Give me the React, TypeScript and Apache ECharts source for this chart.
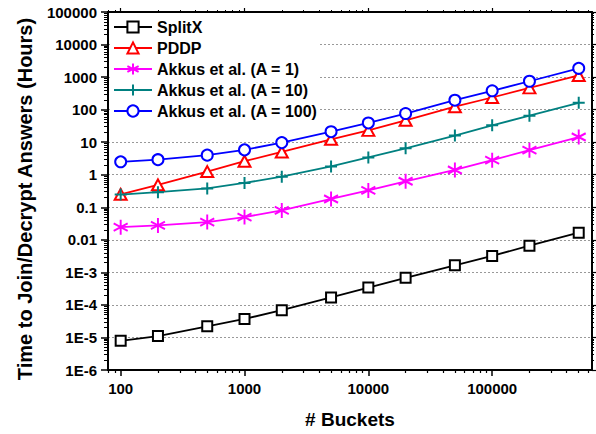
import { useEffect, useRef } from 'react';
import * as echarts from 'echarts';

// ---- data ----
const buckets = [100, 200, 500, 1000, 2000, 5000, 10000, 20000, 50000, 100000, 200000, 500000];
const splitX = [7.9e-6, 1.1e-5, 2.2e-5, 3.7e-5, 6.9e-5, 1.7e-4, 3.4e-4, 6.8e-4, 1.65e-3, 3.2e-3, 6.6e-3, 0.0166];
const pddp = [0.25, 0.49, 1.25, 2.6, 5.0, 12.3, 23, 47, 123, 236, 465, 1120];
const akkusA1 = [0.0245, 0.0277, 0.035, 0.05, 0.08, 0.18, 0.33, 0.63, 1.4, 2.8, 5.7, 14.4];
const akkusA10 = [0.245, 0.29, 0.38, 0.56, 0.87, 1.8, 3.4, 6.5, 16, 33, 65, 162];
const akkusA100 = [2.5, 2.9, 4.0, 5.8, 9.7, 21, 39, 76, 195, 380, 745, 1860];

const seriesNames = ['SplitX', 'PDDP', 'Akkus et al. (A = 1)', 'Akkus et al. (A = 10)', 'Akkus et al. (A = 100)'];

const xTickValues = [100, 1000, 10000, 100000];
const xTickLabels = ['100', '1000', '10000', '100000'];
const yTickValues = [1e-6, 1e-5, 1e-4, 1e-3, 0.01, 0.1, 1, 10, 100, 1000, 10000, 100000];
const yTickLabels = ['1E-6', '1E-5', '1E-4', '1E-3', '0.01', '0.1', '1', '10', '100', '1000', '10000', '100000'];

const xRange = [79, 640000];
const yRange = [1e-6, 1e5];

const xTitle = '# Buckets';
const yTitle = 'Time to Join/Decrypt Answers (Hours)';

const FONT = '"Liberation Sans", Arial, Helvetica, sans-serif';

const ASTERISK = 'path://M10 0 L10 20 M1.34 15 L18.66 5 M1.34 5 L18.66 15';
const PLUS = 'path://M0 10 L20 10 M10 0 L10 20';

// log-decade positions (the axes below are value axes in log10 space)
const lg = (v: number) => Math.log10(v);

function minorTicks(lo: number, hi: number) {
  const out: number[] = [];
  for (let n = Math.floor(lg(lo)); n <= Math.ceil(lg(hi)); n++) {
    for (let k = 2; k <= 9; k++) {
      const v = k * Math.pow(10, n);
      if (v >= lo && v <= hi) out.push(lg(v));
    }
  }
  return out;
}

export default function App() {
  const ref = useRef<HTMLDivElement>(null);

  useEffect(() => {
    if (!ref.current) return;
    const chart = echarts.init(ref.current, null, { renderer: 'svg' });

    const lxMin = lg(xRange[0]);
    const lxMax = lg(xRange[1]);
    const lyMin = Math.round(lg(yRange[0]));
    const lyMax = Math.round(lg(yRange[1]));
    const xMajor = xTickValues.map(lg);
    const yMajor = yTickValues.map(lg);
    const xMinor = minorTicks(xRange[0], xRange[1]);
    const yMinor = minorTicks(yRange[0], yRange[1]);

    const hidden = {
      type: 'value',
      gridIndex: 0,
      splitLine: { show: false },
      axisLabel: { show: false },
      axisTick: { show: false },
      axisLine: { show: false, onZero: false },
    };
    const lineBlack = { color: '#000', width: 2 };

    const xAxes: any[] = [
      {
        ...hidden, min: lxMin, max: lxMax, position: 'bottom',
        axisLine: { show: true, onZero: false, lineStyle: lineBlack },
        axisTick: { show: true, customValues: xMajor, length: 6, lineStyle: { color: '#000', width: 1.5 } },
        axisLabel: {
          show: true, customValues: xMajor, margin: 11,
          fontFamily: FONT, fontWeight: 'bold', fontSize: 15, color: '#000',
          formatter: (v: number) => {
            const i = xMajor.findIndex((m) => Math.abs(m - v) < 1e-6);
            return i >= 0 ? xTickLabels[i] : '';
          },
        },
        name: xTitle, nameLocation: 'middle', nameGap: 40,
        nameTextStyle: { fontFamily: FONT, fontWeight: 'bold', fontSize: 19, color: '#000' },
      },
      {
        ...hidden, min: lxMin, max: lxMax, position: 'bottom',
        axisTick: { show: true, customValues: xMinor, length: 3, lineStyle: { color: '#000', width: 1.2 } },
      },
      {
        ...hidden, min: lxMin, max: lxMax, position: 'top',
        axisLine: { show: true, onZero: false, lineStyle: lineBlack },
        axisTick: { show: true, customValues: xMajor, length: 4, lineStyle: { color: '#000', width: 1.2 } },
      },
      {
        ...hidden, min: lxMin, max: lxMax, position: 'top',
        axisTick: { show: true, customValues: xMinor, length: 2, lineStyle: { color: '#000', width: 1 } },
      },
    ];

    const yAxes: any[] = [
      {
        ...hidden, min: lyMin, max: lyMax, interval: 1, position: 'left',
        axisLine: { show: true, onZero: false, lineStyle: lineBlack },
        axisTick: { show: true, length: 7, lineStyle: { color: '#000', width: 1.5 } },
        axisLabel: {
          show: true, margin: 11,
          fontFamily: FONT, fontWeight: 'bold', fontSize: 15, color: '#000',
          formatter: (v: number) => {
            const i = yMajor.findIndex((m) => Math.abs(m - v) < 1e-6);
            return i >= 0 ? yTickLabels[i] : '';
          },
        },
        splitLine: { show: true, lineStyle: { color: '#999999', width: 1, type: [2, 2] } },
        name: yTitle, nameLocation: 'middle', nameGap: 73,
        nameTextStyle: { fontFamily: FONT, fontWeight: 'bold', fontSize: 20, color: '#000', padding: [0, 16, 0, 0] },
      },
      {
        ...hidden, min: lyMin, max: lyMax, position: 'left',
        axisTick: { show: true, customValues: yMinor, length: 4, lineStyle: { color: '#000', width: 1 } },
      },
      {
        ...hidden, min: lyMin, max: lyMax, position: 'right',
        axisLine: { show: true, onZero: false, lineStyle: lineBlack },
        axisTick: { show: true, customValues: yMajor, length: 4, lineStyle: { color: '#000', width: 1.2 } },
      },
      {
        ...hidden, min: lyMin, max: lyMax, position: 'right',
        axisTick: { show: true, customValues: yMinor, length: 2, lineStyle: { color: '#000', width: 1 } },
      },
    ];

    const mk = (vals: number[]) => buckets.map((b, i) => [lg(b), lg(vals[i])]);

    const specs = [
      { name: seriesNames[0], vals: splitX, color: '#000000', symbol: 'emptyRect', size: 10 },
      { name: seriesNames[1], vals: pddp, color: '#ff0000', symbol: 'emptyTriangle', size: [12, 11] },
      { name: seriesNames[2], vals: akkusA1, color: '#ff00ff', symbol: ASTERISK, size: [14, 15] },
      { name: seriesNames[3], vals: akkusA10, color: '#008080', symbol: PLUS, size: 12 },
      { name: seriesNames[4], vals: akkusA100, color: '#0000ff', symbol: 'emptyCircle', size: 11 },
    ];

    chart.setOption({
      animation: false,
      backgroundColor: '#fff',
      grid: { left: 108, right: 4, top: 12, bottom: 62, containLabel: false },
      legend: {
        orient: 'vertical', left: 110, top: 15,
        itemWidth: 38, itemHeight: 14, itemGap: 1,
        padding: [2, 2, 3, 3],
        backgroundColor: '#fff',
        data: seriesNames,
        textStyle: { fontFamily: FONT, fontWeight: 'bold', fontSize: 16, color: '#000', lineHeight: 20 },
      },
      xAxis: xAxes,
      yAxis: yAxes,
      series: specs.map((s) => ({
        type: 'line',
        name: s.name,
        xAxisIndex: 0,
        yAxisIndex: 0,
        data: mk(s.vals),
        symbol: s.symbol,
        symbolSize: s.size,
        showAllSymbol: true,
        color: s.color,
        lineStyle: { color: s.color, width: 1.8 },
        itemStyle: { color: s.color, borderColor: s.color, borderWidth: 2 },
      })),
    });

    return () => chart.dispose();
  }, []);

  return (
    <div
      ref={ref}
      style={{ position: 'fixed', left: 0, top: 0, width: 596, height: 434, background: '#fff' }}
    />
  );
}
